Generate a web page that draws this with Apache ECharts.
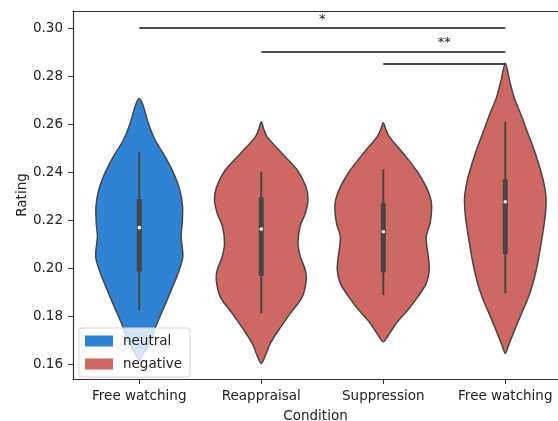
<!DOCTYPE html>
<html>
<head>
<meta charset="utf-8">
<script src="https://cdn.jsdelivr.net/npm/echarts@6/dist/echarts.min.js"></script>
<style>
  html, body { margin: 0; padding: 0; background: #fff; }
  #chart { width: 558px; height: 421px; }
</style>
</head>
<body>
<div id="chart"></div>
<script>
// categories on the x axis
var categories = ['Free watching', 'Reappraisal', 'Suppression', 'Free watching'];
var groups = ['neutral', 'negative', 'negative', 'negative'];

// violin outlines: [rating, half width in category units], top to bottom
var violin0 = [[0.2707,0],[0.2680,0.030],[0.2603,0.075],[0.2534,0.130],[0.2464,0.213],[0.2395,0.282],[0.2326,0.332],[0.2256,0.355],[0.2187,0.352],[0.2130,0.343],[0.2048,0.357],[0.1979,0.318],[0.1909,0.262],[0.1840,0.205],[0.1771,0.146],[0.1701,0.096],[0.1651,0.040],[0.1618,0]];
var violin1 = [[0.2610,0],[0.2580,0.020],[0.2548,0.047],[0.2478,0.170],[0.2409,0.295],[0.2339,0.366],[0.2284,0.383],[0.2229,0.361],[0.2173,0.317],[0.2104,0.301],[0.2048,0.320],[0.1993,0.361],[0.1951,0.369],[0.1881,0.336],[0.1812,0.238],[0.1743,0.143],[0.1687,0.074],[0.1632,0.030],[0.1604,0]];
var violin2 = [[0.2606,0],[0.2580,0.020],[0.2548,0.049],[0.2478,0.164],[0.2409,0.270],[0.2339,0.352],[0.2284,0.391],[0.2242,0.396],[0.2187,0.383],[0.2131,0.352],[0.2076,0.361],[0.2048,0.369],[0.1993,0.377],[0.1937,0.352],[0.1881,0.283],[0.1826,0.201],[0.1771,0.107],[0.1729,0.052],[0.1694,0]];
var violin3 = [[0.2853,0],[0.2777,0.037],[0.2707,0.075],[0.2638,0.130],[0.2568,0.180],[0.2499,0.232],[0.2430,0.276],[0.2360,0.314],[0.2291,0.334],[0.2222,0.328],[0.2152,0.309],[0.2083,0.287],[0.2013,0.262],[0.1944,0.230],[0.1875,0.186],[0.1805,0.127],[0.1736,0.071],[0.1680,0.027],[0.1646,0]];
var violins = [violin0, violin1, violin2, violin3];

// inner box: whisker low, q1, median, q3, whisker high
var whiskerLow = [0.1826, 0.1812, 0.1888, 0.1896];
var q1 = [0.1986, 0.1969, 0.1983, 0.2059];
var medians = [0.2169, 0.2163, 0.2152, 0.2277];
var q3 = [0.2288, 0.2295, 0.2270, 0.2370];
var whiskerHigh = [0.2485, 0.2402, 0.2412, 0.2610];

// significance bars: [from, to, rating]
var sigLines = [[0, 3, 0.300], [1, 3, 0.290], [2, 3, 0.285]];
// significance labels: [x, rating, text]
var sigLabels = [[1.5, 0.3037, '*'], [2.5, 0.2938, '**']];

var yTicks = [0.16, 0.18, 0.20, 0.22, 0.24, 0.26, 0.28, 0.30];

var colors = { neutral: '#3083d4', negative: '#cf6762' };
var edge = '#454545';
var font = 'DejaVu Sans';

function renderViolin(params, api) {
  var i = api.value(0);
  var prof = violins[i];
  var pts = [];
  prof.forEach(function (p) { pts.push(api.coord([i + p[1], p[0]])); });
  for (var k = prof.length - 1; k >= 0; k--) {
    if (prof[k][1] > 0) pts.push(api.coord([i - prof[k][1], prof[k][0]]));
  }
  var lo = api.coord([i, whiskerLow[i]]);
  var hi = api.coord([i, whiskerHigh[i]]);
  var b1 = api.coord([i, q1[i]]);
  var b3 = api.coord([i, q3[i]]);
  var md = api.coord([i, medians[i]]);
  return {
    type: 'group',
    children: [
      { type: 'polygon', shape: { points: pts, smooth: 0.3 },
        style: { fill: colors[groups[i]], stroke: edge, lineWidth: 1.5 } },
      { type: 'line', shape: { x1: lo[0], y1: lo[1], x2: hi[0], y2: hi[1] },
        style: { stroke: edge, lineWidth: 2 } },
      { type: 'rect', shape: { x: b3[0] - 2.5, y: b3[1], width: 5, height: b1[1] - b3[1] },
        style: { fill: edge } },
      { type: 'circle', shape: { cx: md[0], cy: md[1], r: 1.8 },
        style: { fill: '#fff' } }
    ]
  };
}

function renderSig(params, api) {
  var s = sigLines[params.dataIndex];
  var a = api.coord([s[0], s[2]]);
  var b = api.coord([s[1], s[2]]);
  var children = [{ type: 'line', shape: { x1: a[0], y1: a[1], x2: b[0], y2: b[1] },
    style: { stroke: '#111', lineWidth: 1.5 } }];
  var lab = sigLabels[params.dataIndex];
  if (lab) {
    var c = api.coord([lab[0], lab[1]]);
    children.push({ type: 'text', x: c[0], y: c[1],
      style: { text: lab[2], fill: '#222', font: '13px ' + font, align: 'center', verticalAlign: 'middle' } });
  }
  return { type: 'group', children: children };
}

var chart = echarts.init(document.getElementById('chart'));
chart.setOption({
  animation: false,
  backgroundColor: '#fff',
  textStyle: { fontFamily: font },
  grid: { left: 73, top: 11, right: 0, bottom: 42, outerBoundsMode: 'none', containLabel: false },
  legend: {
    data: ['neutral', 'negative'],
    orient: 'vertical',
    left: 79, top: 328,
    icon: 'rect',
    itemWidth: 28, itemHeight: 11, itemGap: 9,
    padding: [6, 8, 6, 6],
    backgroundColor: 'rgba(255,255,255,0.8)',
    borderColor: '#d6d6d6', borderWidth: 1, borderRadius: 3,
    itemStyle: { borderWidth: 0 },
    textStyle: { fontSize: 13.5, color: '#222', fontFamily: font, padding: [0, 0, 0, 5] }
  },
  xAxis: [{
    type: 'value', min: -0.543, max: 3.432,
    name: 'Condition', nameLocation: 'middle', nameGap: 30, nameMoveOverlap: false,
    nameTextStyle: { fontSize: 13.5, color: '#222' },
    axisLine: { show: true, onZero: false, lineStyle: { color: '#333', width: 1.2 } },
    axisTick: { show: true, length: 5, customValues: [0, 1, 2, 3], lineStyle: { color: '#333' } },
    axisLabel: { customValues: [0, 1, 2, 3], margin: 10, fontSize: 13.5, color: '#222',
      formatter: function (v) { return categories[Math.round(v)]; } },
    splitLine: { show: false }
  }, {
    type: 'value', min: -0.543, max: 3.432, position: 'top',
    axisLine: { show: true, onZero: false, lineStyle: { color: '#333', width: 1.2 } },
    axisTick: { show: false }, axisLabel: { show: false }, splitLine: { show: false }
  }],
  yAxis: {
    type: 'value', min: 0.1539, max: 0.3071,
    name: 'Rating', nameLocation: 'middle', nameGap: 44, nameMoveOverlap: false,
    nameTextStyle: { fontSize: 13.5, color: '#222' },
    axisLine: { show: true, onZero: false, lineStyle: { color: '#333', width: 1.2 } },
    axisTick: { show: true, length: 5, customValues: yTicks, lineStyle: { color: '#333' } },
    axisLabel: { customValues: yTicks, margin: 10, fontSize: 13.5, color: '#222',
      formatter: function (v) { return v.toFixed(2); } },
    splitLine: { show: false }
  },
  series: [
    { name: 'neutral', type: 'custom', renderItem: renderViolin,
      itemStyle: { color: colors.neutral }, encode: { x: 0, y: 1 },
      data: [[0, medians[0]]] },
    { name: 'negative', type: 'custom', renderItem: renderViolin,
      itemStyle: { color: colors.negative }, encode: { x: 0, y: 1 },
      data: [[1, medians[1]], [2, medians[2]], [3, medians[3]]] },
    { name: 'sig', type: 'custom', renderItem: renderSig, encode: { x: 0, y: 2 },
      data: sigLines }
  ]
});
</script>
</body>
</html>
